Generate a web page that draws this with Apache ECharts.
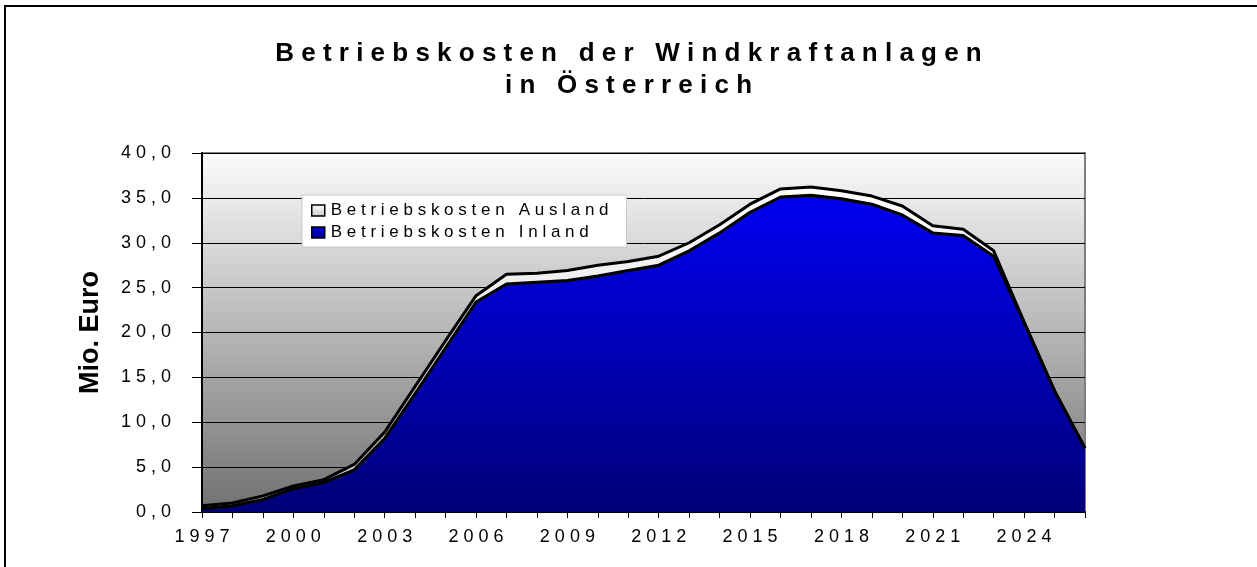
<!DOCTYPE html>
<html lang="de">

<head>
    <meta charset="UTF-8">
    <title>Betriebskosten der Windkraftanlagen in Österreich</title>
    <script src="https://cdn.jsdelivr.net/npm/echarts@6/dist/echarts.min.js"></script>
    <style>
        body { margin: 0; background: #fff; }
        #main { width: 1257px; height: 567px; }
    </style>
</head>

<body>
    <div id="main"></div>
    <script>
        // Jahre 1997 - 2026
        var years = ['1997', '1998', '1999', '2000', '2001', '2002', '2003', '2004', '2005', '2006',
            '2007', '2008', '2009', '2010', '2011', '2012', '2013', '2014', '2015', '2016',
            '2017', '2018', '2019', '2020', '2021', '2022', '2023', '2024', '2025', '2026']
        // Mio. Euro
        var inland = [0.4, 0.7, 1.4, 2.6, 3.3, 4.7, 8.2, 13.2, 18.3, 23.4,
            25.4, 25.6, 25.8, 26.3, 26.9, 27.5, 29.1, 31.1, 33.4, 35.1,
            35.3, 34.9, 34.3, 33.1, 31.1, 30.8, 28.5, 21.1, 13.5, 7.1]
        var ausland = [0.3, 0.3, 0.4, 0.3, 0.3, 0.6, 0.7, 0.8, 0.8, 0.7,
            1.1, 1.0, 1.1, 1.2, 1.0, 1.0, 0.9, 0.9, 0.9, 0.9,
            0.9, 0.9, 0.9, 1.0, 0.8, 0.7, 0.6, 0.1, 0.0, 0.0]
        var yTicks = [0, 5, 10, 15, 20, 25, 30, 35, 40]
        var nameAusland = 'Betriebskosten Ausland'
        var nameInland = 'Betriebskosten Inland'

        // gesperrte Schrift wie im Original
        function sp(s) {
            return s.split('').join(' ')
        }

        var blueFill = new echarts.graphic.LinearGradient(0, 0, 0, 1, [
            { offset: 0, color: '#0000f2' },
            { offset: 1, color: '#000078' }
        ])
        var whiteFill = new echarts.graphic.LinearGradient(0, 0, 0, 1, [
            { offset: 0, color: '#ffffff' },
            { offset: 1, color: '#c8c8c8' }
        ])

        var mCharts = echarts.init(document.getElementById('main'))
        var option = {
            animation: false,
            textStyle: { fontFamily: 'Liberation Sans, Arial, sans-serif', color: '#000' },
            title: {
                text: sp('Betriebskosten der Windkraftanlagen') + '\n' + sp('in Österreich'),
                left: 'center',
                top: 33,
                textStyle: {
                    fontSize: 26,
                    fontWeight: 'bold',
                    lineHeight: 32,
                    color: '#000',
                    fontFamily: 'Liberation Sans, Arial, sans-serif'
                }
            },
            graphic: [{
                type: 'rect',
                shape: { x: 5, y: 6, width: 1400, height: 700 },
                style: { fill: 'none', stroke: '#000', lineWidth: 2 },
                silent: true
            }],
            legend: {
                orient: 'vertical',
                left: 302,
                top: 195,
                padding: [7, 18, 6, 9],
                backgroundColor: '#fff',
                borderColor: '#c8c8c8',
                borderWidth: 1,
                itemWidth: 13,
                itemHeight: 11,
                itemGap: 5,
                formatter: function (name) { return sp(name) },
                textStyle: { fontSize: 17, color: '#000', padding: [0, 0, 0, 1] },
                data: [
                    { name: nameAusland, icon: 'rect', itemStyle: { color: whiteFill, borderColor: '#000', borderWidth: 1.5 } },
                    { name: nameInland, icon: 'rect', itemStyle: { color: blueFill, borderColor: '#000', borderWidth: 1.5 } }
                ]
            },
            grid: {
                left: 202,
                right: 172,
                top: 153,
                bottom: 55,
                show: true,
                borderColor: '#808080',
                borderWidth: 2,
                backgroundColor: new echarts.graphic.LinearGradient(0, 0, 0, 1, [
                    { offset: 0, color: '#fcfcfc' },
                    { offset: 1, color: '#707070' }
                ])
            },
            xAxis: {
                type: 'category',
                data: years,
                boundaryGap: false,
                axisLine: { lineStyle: { color: '#000', width: 2 } },
                axisTick: { show: true, interval: 0, length: 6, lineStyle: { color: '#000' } },
                axisLabel: {
                    interval: 2,
                    margin: 16,
                    fontSize: 18,
                    color: '#000',
                    formatter: function (v) { return sp(v) }
                },
                splitLine: { show: false }
            },
            yAxis: {
                type: 'value',
                min: yTicks[0],
                max: yTicks[yTicks.length - 1],
                interval: 5,
                name: 'Mio. Euro',
                nameLocation: 'middle',
                nameRotate: 90,
                nameGap: 98,
                nameTextStyle: { fontSize: 27, fontWeight: 'bold', color: '#000' },
                axisLine: { show: true, lineStyle: { color: '#000', width: 2 } },
                axisTick: { show: true, length: 10, lineStyle: { color: '#000' } },
                axisLabel: {
                    margin: 31,
                    fontSize: 18,
                    color: '#000',
                    formatter: function (v) { return sp(v.toFixed(1).replace('.', ',')) }
                },
                splitLine: { show: true, lineStyle: { color: '#000', width: 1 } }
            },
            series: [{
                name: nameInland,
                type: 'line',
                stack: 'kosten',
                data: inland,
                symbol: 'none',
                lineStyle: { color: '#000', width: 3 },
                itemStyle: { color: blueFill },
                areaStyle: { color: blueFill, opacity: 1 },
                z: 3
            }, {
                name: nameAusland,
                type: 'line',
                stack: 'kosten',
                data: ausland,
                symbol: 'none',
                lineStyle: { color: '#000', width: 3 },
                itemStyle: { color: whiteFill },
                areaStyle: { color: whiteFill, opacity: 1 },
                z: 2
            }]
        }
        mCharts.setOption(option)
    </script>
</body>

</html>
